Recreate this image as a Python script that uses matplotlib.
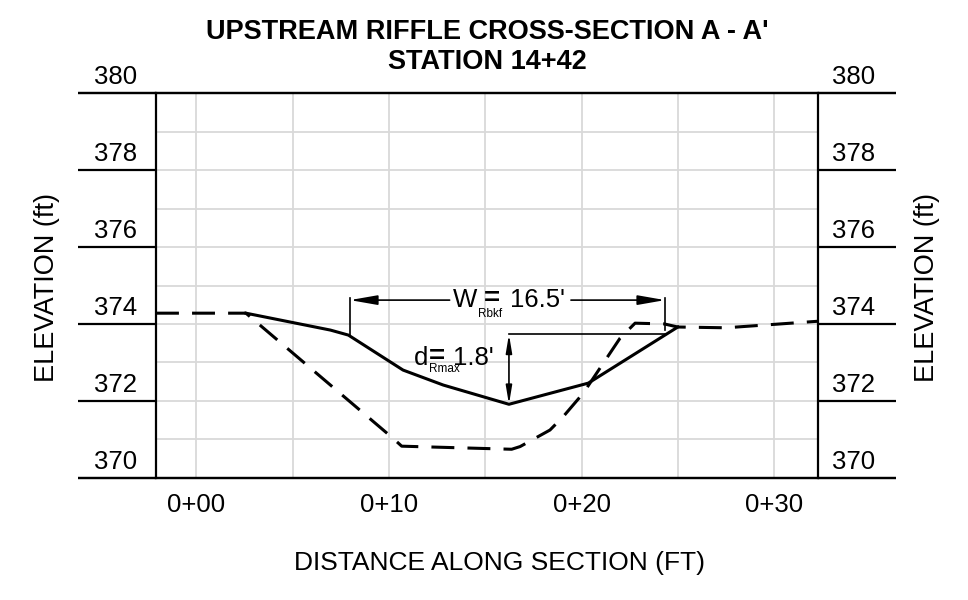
import numpy as np
import matplotlib
matplotlib.use('Agg')
import matplotlib.pyplot as plt
import matplotlib.transforms as mtransforms

# cross-section data (station in ft, elevation in ft)
existing_x = [-2.1, 2.57, 10.22, 10.66, 16.37, 16.81, 18.36, 19.05, 20.09, 22.00, 22.78, 24.30, 25.00, 27.50, 32.28]
existing_y = [374.28, 374.28, 371.02, 370.82, 370.74, 370.81, 371.24, 371.59, 372.20, 373.63, 374.02, 374.00, 373.92, 373.90, 374.07]

proposed_x = [2.57, 6.96, 7.89, 10.73, 12.82, 16.23, 20.35, 25.00]
proposed_y = [374.28, 373.84, 373.71, 372.80, 372.41, 371.91, 372.46, 373.92]

x_ticks = [0, 10, 20, 30]
x_tick_labels = ['0+00', '0+10', '0+20', '0+30']
y_ticks = [370, 372, 374, 376, 378, 380]

# bankfull width / max depth dimensions
w_left, w_right, w_level = 7.97, 24.34, 374.62
d_station, d_top, d_bottom = 16.23, 373.73, 371.91

plt.rcParams['font.family'] = ['Liberation Sans', 'DejaVu Sans']

fig = plt.figure(figsize=(9.68, 6), dpi=100)
ax = fig.add_axes([156 / 968, 1 - 477.7 / 600, 662 / 968, 384.4 / 600])

ax.set_xlim(-2.1, 32.28)
ax.set_ylim(370, 380)

# grid
ax.set_xticks(x_ticks)
ax.set_xticks([5, 15, 25], minor=True)
ax.set_xticklabels(x_tick_labels, fontsize=18.5)
ax.set_yticks(y_ticks)
ax.set_yticks([371, 373, 375, 377, 379], minor=True)
ax.set_yticklabels([])
ax.grid(True, which='both', color='#d9d9d9', lw=1.3, zorder=0)
ax.tick_params(axis='x', which='both', length=0, pad=11)
ax.tick_params(axis='y', which='major', length=56, width=1.6, direction='out',
               left=True, right=True, color='black')
ax.tick_params(axis='y', which='minor', length=0)
for side in ['left', 'right', 'top', 'bottom']:
    ax.spines[side].set_linewidth(1.6)
    ax.spines[side].set_zorder(5)

# extend top / bottom border to the tick ends
blend = mtransforms.blended_transform_factory(ax.transAxes, ax.transData)
for yv in [370, 380]:
    ax.plot([-0.118, 1.118], [yv, yv], color='black', lw=1.6, transform=blend,
            clip_on=False, solid_capstyle='butt', zorder=5)

# y labels sitting on top of the tick lines
for yv in y_ticks:
    for xa in [-0.0612, 1.0536]:
        ax.annotate(str(yv), xy=(xa, yv), xycoords=blend, xytext=(0, 6.5),
                    textcoords='offset points', ha='center', va='baseline',
                    fontsize=18.5, annotation_clip=False)

# ground lines
ax.plot(existing_x, existing_y, color='black', lw=2.2, ls=(0, (7.5, 4.3)), zorder=3)
ax.plot(proposed_x, proposed_y, color='black', lw=2.2, zorder=4)

# W dimension
dim_kw = dict(color='black', lw=1.2, zorder=4)
ax.plot([w_left, w_left], [w_level + 0.05, 373.71], **dim_kw)
ax.plot([w_right, w_right], [w_level + 0.05, 373.84], **dim_kw)
arrow_w = dict(arrowstyle='-|>,head_length=1.66,head_width=0.29', color='black',
               lw=1.2, shrinkA=0, shrinkB=0, mutation_scale=10)
ax.annotate('', xy=(w_left, w_level), xytext=(13.15, w_level), arrowprops=arrow_w)
ax.annotate('', xy=(w_right, w_level), xytext=(19.45, w_level), arrowprops=arrow_w)
ax.text(13.3, w_level, 'W', fontsize=18.5, ha='left', va='center')
ax.text(14.62, 374.25, 'Rbkf', fontsize=8.5, ha='left', va='center')
ax.text(14.95, w_level + 0.03, '=', fontsize=20, fontweight='bold', ha='left', va='center')
ax.text(16.29, w_level, "16.5'", fontsize=18.5, ha='left', va='center')

# d dimension
ax.plot([d_station, w_right], [d_top, d_top], **dim_kw)
arrow_d = dict(arrowstyle='<|-|>,head_length=1.08,head_width=0.18', color='black',
               lw=1.2, shrinkA=0, shrinkB=0, mutation_scale=10)
ax.annotate('', xy=(d_station, d_top), xytext=(d_station, d_bottom), arrowprops=arrow_d)
ax.text(11.3, 373.12, 'd', fontsize=18.5, ha='left', va='center')
ax.text(12.08, 372.82, 'Rmax', fontsize=8.5, ha='left', va='center')
ax.text(12.05, 373.15, '=', fontsize=20, fontweight='bold', ha='left', va='center')
ax.text(13.35, 373.12, "1.8'", fontsize=18.5, ha='left', va='center')

# titles and axis labels
fig.text(487 / 968, 1 - 39 / 600, "UPSTREAM RIFFLE CROSS-SECTION A - A'",
         fontsize=19.5, fontweight='bold', ha='center', va='baseline')
fig.text(487 / 968, 1 - 69 / 600, 'STATION 14+42',
         fontsize=19.5, fontweight='bold', ha='center', va='baseline')
fig.text(499 / 968, 1 - 570 / 600, 'DISTANCE ALONG SECTION (FT)',
         fontsize=19, ha='center', va='baseline')
fig.text(47 / 968, 1 - 287.5 / 600, 'ELEVATION (ft)', fontsize=19.5,
         rotation=90, ha='center', va='center')
fig.text(927 / 968, 1 - 287.5 / 600, 'ELEVATION (ft)', fontsize=19.5,
         rotation=90, ha='center', va='center')

fig.savefig('out.png', dpi=100, facecolor='white')
